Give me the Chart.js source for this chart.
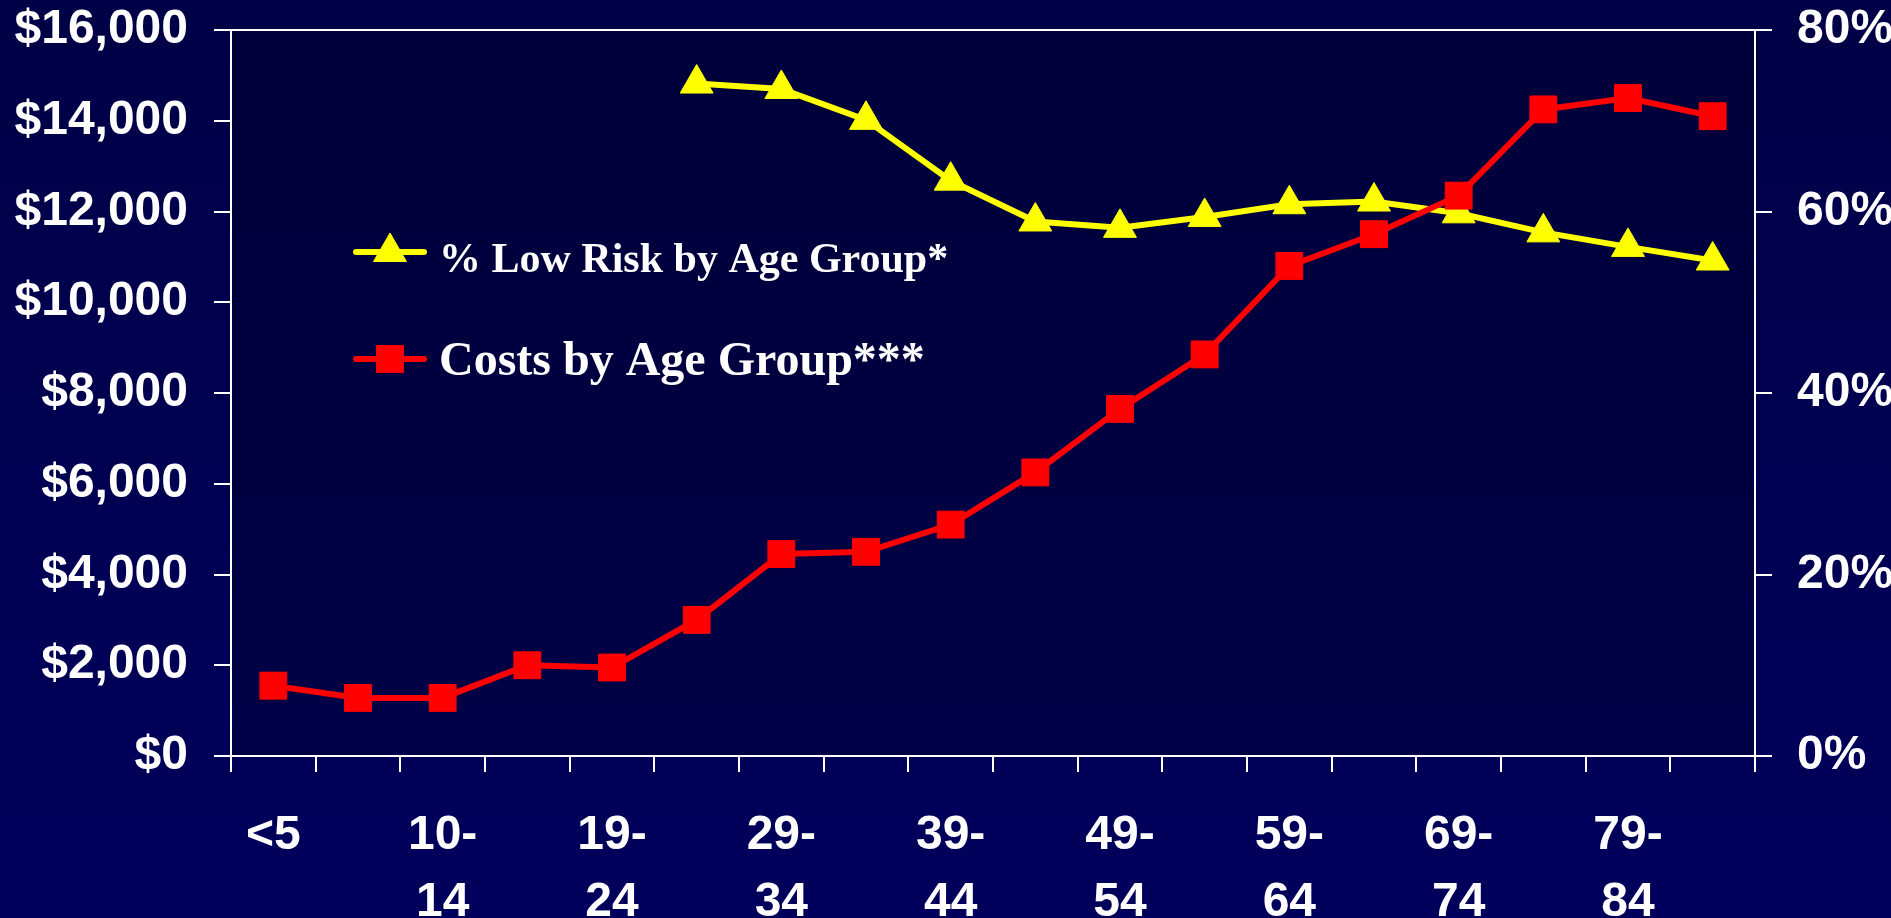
<!DOCTYPE html>
<html>
<head>
<meta charset="utf-8">
<title>Costs and Low Risk by Age Group</title>
<script src="https://cdn.jsdelivr.net/npm/chart.js@4.4.1/dist/chart.umd.min.js"></script>
<style>
  html, body { margin: 0; padding: 0; background: #000048; }
  canvas { display: block; }
</style>
</head>
<body>
<canvas id="chart" width="1891" height="918"></canvas>
<script>
// Age groups along the x axis (every other one is labelled)
const ageGroups = ['<5', '5-9', '10-14', '15-18', '19-24', '25-28', '29-34', '35-38', '39-44',
                   '45-48', '49-54', '55-58', '59-64', '65-68', '69-74', '75-78', '79-84', '85+'];

// Average cost per person, dollars (left axis)
const costByAge = [1550, 1280, 1280, 2000, 1950, 3000, 4450, 4500, 5100,
                   6250, 7650, 8850, 10800, 11500, 12350, 14250, 14500, 14100];

// Share of people at low risk, percent (right axis); no data for the youngest groups
const lowRiskByAge = [null, null, null, null, null, 74.1, 73.5, 70.1, 63.4,
                      58.9, 58.2, 59.4, 60.8, 61.1, 59.8, 57.7, 56.1, 54.6];

// Axis tick values
const costTicks = [0, 2000, 4000, 6000, 8000, 10000, 12000, 14000, 16000];
const lowRiskTicks = [0, 20, 40, 60, 80];

// Series names
const lowRiskName = '% Low Risk by Age Group*';
const costName = 'Costs by Age Group***';

const WHITE = '#ffffff';
const YELLOW = '#ffff00';
const RED = '#ff0000';

Chart.defaults.font.family = '"Liberation Sans", Arial, sans-serif';
Chart.defaults.color = WHITE;

// Same marker geometry Chart.js uses for its point styles
function drawMarker(ctx, style, x, y, r, color) {
  ctx.save();
  ctx.fillStyle = color;
  ctx.strokeStyle = color;
  ctx.lineWidth = 1;
  ctx.beginPath();
  if (style === 'triangle') {
    ctx.moveTo(x, y - r);
    ctx.lineTo(x + r * Math.sin(2 * Math.PI / 3), y - r * Math.cos(2 * Math.PI / 3));
    ctx.lineTo(x + r * Math.sin(4 * Math.PI / 3), y - r * Math.cos(4 * Math.PI / 3));
    ctx.closePath();
  } else {
    const s = Math.SQRT1_2 * r;
    ctx.rect(x - s, y - s, 2 * s, 2 * s);
  }
  ctx.fill();
  ctx.stroke();
  ctx.restore();
}

// Slide-style background, darker plot area and plot frame
const backdrop = {
  id: 'backdrop',
  beforeDraw(chart) {
    const { ctx, width, height, chartArea: a } = chart;
    ctx.save();
    const bg = ctx.createLinearGradient(0, 0, 0, height);
    bg.addColorStop(0, '#000046');
    bg.addColorStop(1, '#00005c');
    ctx.fillStyle = bg;
    ctx.fillRect(0, 0, width, height);
    const pa = ctx.createLinearGradient(0, a.top, 0, a.bottom);
    pa.addColorStop(0, '#00003a');
    pa.addColorStop(1, '#000046');
    ctx.fillStyle = pa;
    ctx.fillRect(a.left, a.top, a.right - a.left, a.bottom - a.top);
    ctx.restore();
  },
  beforeDatasetsDraw(chart) {
    const { ctx, chartArea: a } = chart;
    ctx.save();
    ctx.strokeStyle = WHITE;
    ctx.lineWidth = 2;
    ctx.beginPath();
    ctx.moveTo(a.left, a.top);
    ctx.lineTo(a.right, a.top);
    ctx.stroke();
    ctx.restore();
  }
};

// Key drawn inside the plot area, one row per series
const seriesKey = {
  id: 'seriesKey',
  afterDatasetsDraw(chart) {
    const ctx = chart.ctx;
    const rows = [
      { ds: chart.data.datasets[1], y: 252, baseline: 272, size: 42 },
      { ds: chart.data.datasets[0], y: 359, baseline: 375, size: 48 }
    ];
    rows.forEach(row => {
      const ds = row.ds;
      ctx.save();
      ctx.strokeStyle = ds.borderColor;
      ctx.lineWidth = ds.borderWidth;
      ctx.lineCap = 'round';
      ctx.beginPath();
      ctx.moveTo(356, row.y);
      ctx.lineTo(424, row.y);
      ctx.stroke();
      ctx.restore();
      drawMarker(ctx, ds.pointStyle, 390, row.y, ds.pointRadius, ds.pointBackgroundColor);
      ctx.save();
      ctx.fillStyle = WHITE;
      ctx.font = 'bold ' + row.size + 'px "Liberation Serif", "Times New Roman", serif';
      ctx.textAlign = 'left';
      ctx.textBaseline = 'alphabetic';
      ctx.fillText(ds.label, 439, row.baseline);
      ctx.restore();
    });
  }
};

const tickFont = { size: 48, weight: 'bold', lineHeight: 67 / 48 };

new Chart(document.getElementById('chart'), {
  type: 'line',
  data: {
    labels: ageGroups,
    datasets: [
      {
        label: costName,
        data: costByAge,
        yAxisID: 'cost',
        borderColor: RED,
        backgroundColor: RED,
        borderWidth: 6,
        pointStyle: 'rect',
        pointRadius: 19,
        pointBorderWidth: 1,
        pointBackgroundColor: RED,
        pointBorderColor: RED,
        tension: 0
      },
      {
        label: lowRiskName,
        data: lowRiskByAge,
        yAxisID: 'risk',
        borderColor: YELLOW,
        backgroundColor: YELLOW,
        borderWidth: 6,
        pointStyle: 'triangle',
        pointRadius: 19,
        pointBorderWidth: 1,
        pointBackgroundColor: YELLOW,
        pointBorderColor: YELLOW,
        spanGaps: false,
        tension: 0
      }
    ]
  },
  options: {
    responsive: false,
    animation: false,
    events: [],
    layout: { padding: 0 },
    plugins: {
      legend: { display: false },
      tooltip: { enabled: false }
    },
    scales: {
      x: {
        type: 'category',
        offset: true,
        afterFit(scale) { scale.height = 162; },
        grid: {
          offset: true,
          drawOnChartArea: false,
          color: WHITE,
          lineWidth: 2,
          tickLength: 16
        },
        border: { color: WHITE, width: 2 },
        ticks: {
          autoSkip: false,
          maxRotation: 0,
          minRotation: 0,
          padding: 30,
          color: WHITE,
          font: tickFont,
          callback(value, index) {
            if (index % 2 !== 0) return '';
            const name = ageGroups[index];
            const dash = name.indexOf('-');
            return dash < 0 ? name : [name.slice(0, dash + 1), name.slice(dash + 1)];
          }
        }
      },
      cost: {
        type: 'linear',
        position: 'left',
        min: costTicks[0],
        max: costTicks[costTicks.length - 1],
        afterFit(scale) { scale.width = 231; scale.paddingTop = 30; },
        afterBuildTicks(scale) { scale.ticks = costTicks.map(v => ({ value: v })); },
        grid: {
          drawOnChartArea: false,
          color: WHITE,
          lineWidth: 2,
          tickLength: 17
        },
        border: { color: WHITE, width: 2 },
        ticks: {
          padding: 26,
          color: WHITE,
          font: { size: 48, weight: 'bold' },
          callback(v) { return '$' + Number(v).toLocaleString('en-US'); }
        }
      },
      risk: {
        type: 'linear',
        position: 'right',
        min: lowRiskTicks[0],
        max: lowRiskTicks[lowRiskTicks.length - 1],
        afterFit(scale) { scale.width = 136; scale.paddingTop = 30; },
        afterBuildTicks(scale) { scale.ticks = lowRiskTicks.map(v => ({ value: v })); },
        grid: {
          drawOnChartArea: false,
          color: WHITE,
          lineWidth: 2,
          tickLength: 17
        },
        border: { color: WHITE, width: 2 },
        ticks: {
          padding: 25,
          color: WHITE,
          font: { size: 48, weight: 'bold' },
          callback(v) { return v + '%'; }
        }
      }
    }
  },
  plugins: [backdrop, seriesKey]
});
</script>
</body>
</html>
